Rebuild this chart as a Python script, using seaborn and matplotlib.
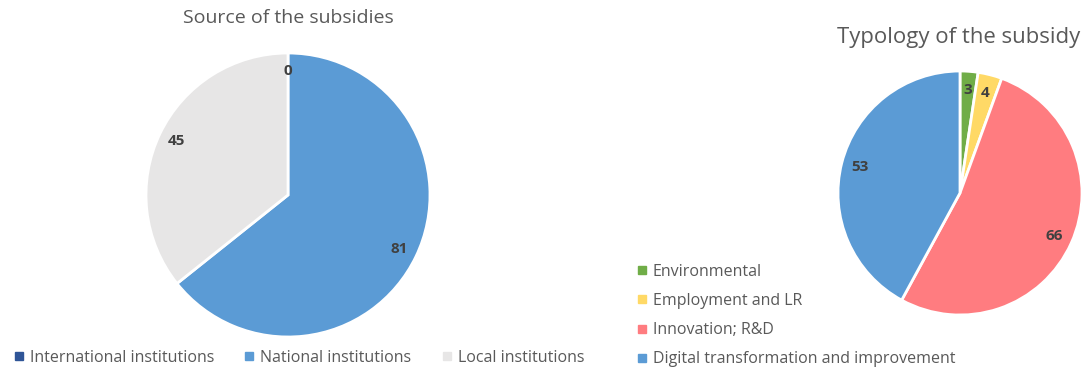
import matplotlib
matplotlib.use("Agg")
import matplotlib.pyplot as plt
from matplotlib.lines import Line2D
import seaborn as sns

sns.set_theme(style="white")
plt.rcParams['font.family'] = ['Open Sans', 'DejaVu Sans']

# Data
source_labels = ["International institutions", "National institutions", "Local institutions"]
source_values = [0, 81, 45]
source_colors = ["#2F5597", "#5B9BD5", "#E7E6E6"]

type_labels = ["Environmental", "Employment and LR", "Innovation; R&D",
               "Digital transformation and improvement"]
type_values = [3, 4, 66, 53]
type_colors = ["#70AD47", "#FFD966", "#FF7C80", "#5B9BD5"]

W, H = 1085, 376
fig = plt.figure(figsize=(W / 100, H / 100), dpi=100)
fig.patch.set_facecolor("white")

def axes_px(cx, cy, r):
    return fig.add_axes([(cx - r) / W, (H - cy - r) / H, 2 * r / W, 2 * r / H])

text_col = "#595959"
lab_col = "#404040"

def draw_pie(ax, vals, cols, ldist):
    wedges, texts = ax.pie(vals, colors=cols, startangle=90, counterclock=False,
                           labels=[str(v) for v in vals], labeldistance=ldist,
                           wedgeprops=dict(edgecolor="white", linewidth=2),
                           textprops=dict(color=lab_col, fontsize=11, fontweight="bold",
                                          ha="center", va="center"))
    for t in texts:
        t.set_ha("center")
        t.set_va("center")
    ax.set_xlim(-1, 1)
    ax.set_ylim(-1, 1)
    ax.set_aspect("equal")
    ax.axis("off")
    return wedges

ax1 = axes_px(288, 195, 142)
draw_pie(ax1, source_values, source_colors, 0.87)
fig.text(288 / W, 1 - 18 / H, "Source of the subsidies", ha="center", va="center",
         fontsize=14, color=text_col)

ax2 = axes_px(960, 193, 122)
draw_pie(ax2, type_values, type_colors, 0.85)
fig.text(959 / W, 1 - 37 / H, "Typology of the subsidy", ha="center", va="center",
         fontsize=15.9, color=text_col)

def handles(cols):
    return [Line2D([0], [0], marker="s", linestyle="none", markersize=6,
                   markerfacecolor=c, markeredgecolor=c) for c in cols]

leg1 = fig.legend(handles(source_colors), source_labels, ncol=3, frameon=False,
                  loc="center left", bbox_to_anchor=(5 / W, 1 - 358 / H),
                  fontsize=11.5, labelcolor=text_col, handlelength=0.7,
                  handletextpad=0.35, columnspacing=1.85, borderpad=0)
leg2 = fig.legend(handles(type_colors), type_labels, ncol=1, frameon=False,
                  loc="upper left", bbox_to_anchor=(628 / W, 1 - 256 / H),
                  fontsize=11.5, labelcolor=text_col, handlelength=0.7,
                  handletextpad=0.35, labelspacing=0.82, borderpad=0)

fig.savefig("out.png", dpi=100, facecolor="white")
